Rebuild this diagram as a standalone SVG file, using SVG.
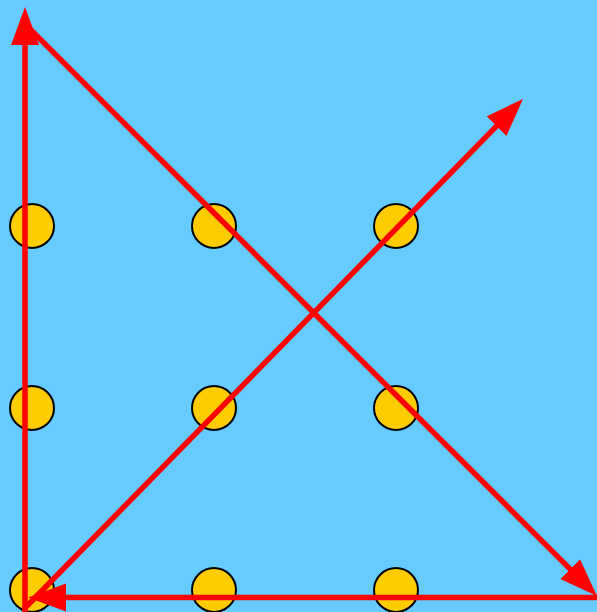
<svg xmlns="http://www.w3.org/2000/svg" width="597" height="612" viewBox="0 0 597 612">
<style>
.dot{fill:#FFCC00;stroke:#000;stroke-width:2}
.ln{stroke:#FF0000;stroke-width:5.5;fill:none;marker-end:url(#ah)}
</style>
<defs>
<marker id="ah" markerUnits="userSpaceOnUse" markerWidth="40" markerHeight="30" viewBox="0 -15 40 30" refX="18" refY="0" orient="auto">
<path d="M0,-14 L38,0 L0,14 Z" fill="#FF0000"/>
</marker>
</defs>
<rect width="597" height="612" fill="#66CCFF"/>
<g id="dots">
<g id="d11"><circle class="dot" cx="32" cy="226" r="22"/></g>
<g id="d12"><circle class="dot" cx="214" cy="226" r="22"/></g>
<g id="d13"><circle class="dot" cx="396" cy="226" r="22"/></g>
<g id="d21"><circle class="dot" cx="32" cy="408" r="22"/></g>
<g id="d22"><circle class="dot" cx="214" cy="408" r="22"/></g>
<g id="d23"><circle class="dot" cx="396" cy="408" r="22"/></g>
<g id="d31"><circle class="dot" cx="32" cy="590" r="22"/></g>
<g id="d32"><circle class="dot" cx="214" cy="590" r="22"/></g>
<g id="d33"><circle class="dot" cx="396" cy="590" r="22"/></g>
</g>
<g id="connectors">
<line class="ln" x1="25" y1="612" x2="25" y2="27"/>
<line class="ln" x1="22" y1="21" x2="582.9" y2="581.9"/>
<line class="ln" x1="597" y1="597.5" x2="48" y2="597.5"/>
<line class="ln" x1="24" y1="609" x2="509" y2="113.3"/>
</g>
</svg>
